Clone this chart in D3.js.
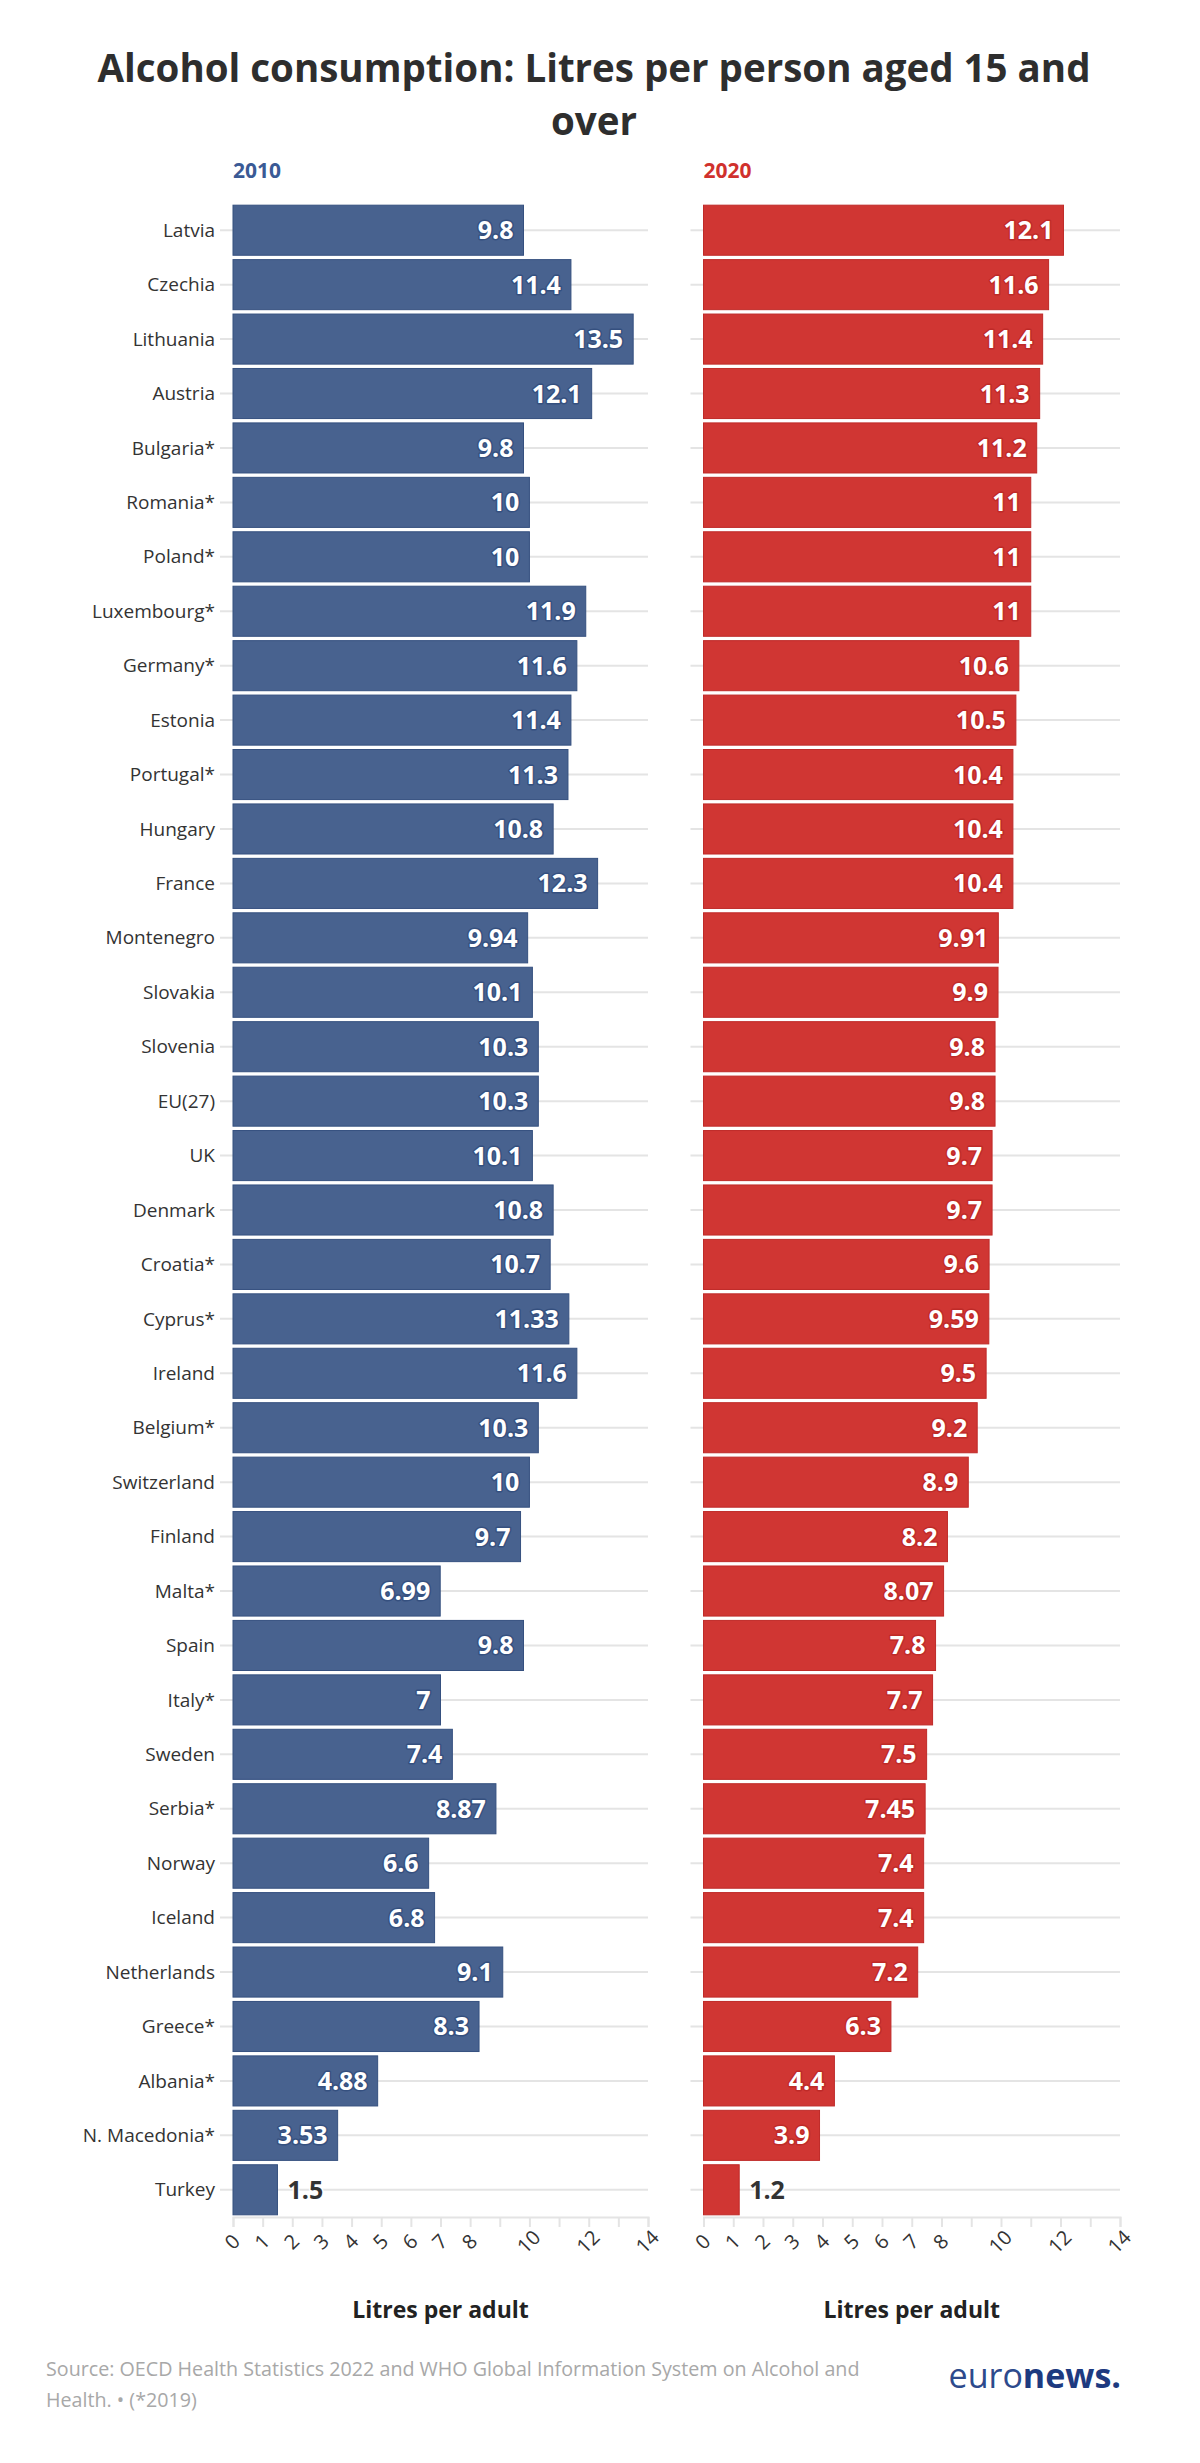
<!DOCTYPE html>
<html>
<head>
<meta charset="utf-8">
<script src="https://cdn.jsdelivr.net/npm/d3@7"></script>
<style>
  html, body { margin: 0; padding: 0; background: #fff; }
  svg { display: block; font-family: "Open Sans", sans-serif; }
</style>
</head>
<body>
<svg id="chart" width="1200" height="2463"></svg>
<script>
const countries = ["Latvia","Czechia","Lithuania","Austria","Bulgaria*","Romania*","Poland*","Luxembourg*","Germany*","Estonia","Portugal*","Hungary","France","Montenegro","Slovakia","Slovenia","EU(27)","UK","Denmark","Croatia*","Cyprus*","Ireland","Belgium*","Switzerland","Finland","Malta*","Spain","Italy*","Sweden","Serbia*","Norway","Iceland","Netherlands","Greece*","Albania*","N. Macedonia*","Turkey"];
const values2010 = [9.8,11.4,13.5,12.1,9.8,10,10,11.9,11.6,11.4,11.3,10.8,12.3,9.94,10.1,10.3,10.3,10.1,10.8,10.7,11.33,11.6,10.3,10,9.7,6.99,9.8,7,7.4,8.87,6.6,6.8,9.1,8.3,4.88,3.53,1.5];
const values2020 = [12.1,11.6,11.4,11.3,11.2,11,11,11,10.6,10.5,10.4,10.4,10.4,9.91,9.9,9.8,9.8,9.7,9.7,9.6,9.59,9.5,9.2,8.9,8.2,8.07,7.8,7.7,7.5,7.45,7.4,7.4,7.2,6.3,4.4,3.9,1.2];
const seriesNames = ["2010","2020"];
const tickValues = [0,1,2,3,4,5,6,7,8,9,10,11,12,13,14];
const tickLabels = ["0","1","2","3","4","5","6","7","8","","10","","12","","14"];
const titleLines = ["Alcohol consumption: Litres per person aged 15 and","over"];
const axisTitle = "Litres per adult";
const sourceLines = ["Source: OECD Health Statistics 2022 and WHO Global Information System on Alcohol and","Health. • (*2019)"];

const svg = d3.select("#chart");

// Title
svg.append("text")
  .attr("x", 594).attr("y", 82)
  .attr("text-anchor", "middle")
  .attr("font-size", 38.5).attr("font-weight", 700).attr("fill", "#2e2e2e")
  .selectAll("tspan").data(titleLines).join("tspan")
  .attr("x", 594).attr("dy", (d, i) => i === 0 ? 0 : 53)
  .text(d => d);

const y = d3.scaleBand().domain(countries).range([203, 2217]).paddingInner(0.08).paddingOuter(0.04);

const panels = [
  { name: seriesNames[0], values: values2010, x0: 233, x1: 648, fill: "#48628f", stroke: "#35507f", head: "#3a5a95", labels: true },
  { name: seriesNames[1], values: values2020, x0: 703.5, x1: 1120, fill: "#d03633", stroke: "#bf2a28", head: "#d0312d", labels: false }
];

const axisY = 2217;

panels.forEach(p => {
  const x = d3.scaleLinear().domain([0, 14]).range([p.x0, p.x1]);
  const g = svg.append("g");

  // header
  g.append("text").attr("x", p.x0).attr("y", 178)
    .attr("font-size", 21).attr("font-weight", 700).attr("fill", p.head)
    .text(p.name);

  // horizontal gridlines through category centres
  g.selectAll("line.grid").data(countries).join("line")
    .attr("x1", p.x0 - 13).attr("x2", p.x1)
    .attr("y1", d => y(d) + y.bandwidth() / 2)
    .attr("y2", d => y(d) + y.bandwidth() / 2)
    .attr("stroke", "#e4e4e4").attr("stroke-width", 2);

  // category labels
  if (p.labels) {
    g.selectAll("text.cat").data(countries).join("text")
      .attr("x", p.x0 - 18)
      .attr("y", d => y(d) + y.bandwidth() / 2)
      .attr("dy", "0.35em")
      .attr("text-anchor", "end")
      .attr("font-size", 19).attr("fill", "#333")
      .text(d => d);
  }

  // bars
  g.selectAll("rect.bar").data(countries).join("rect")
    .attr("x", x(0))
    .attr("y", d => y(d))
    .attr("width", (d, i) => x(p.values[i]) - x(0))
    .attr("height", y.bandwidth())
    .attr("fill", p.fill)
    .attr("stroke", p.stroke).attr("stroke-width", 1);

  // value labels
  countries.forEach((c, i) => {
    const v = p.values[i];
    const w = x(v) - x(0);
    const inside = w > 70;
    const t = g.append("text")
      .attr("y", y(c) + y.bandwidth() / 2)
      .attr("dy", "0.36em")
      .attr("font-size", 25).attr("font-weight", 700)
      .text(String(v));
    if (inside) {
      t.attr("x", x(v) - 10).attr("text-anchor", "end")
        .attr("fill", "#fff")
        .attr("stroke", p.stroke).attr("stroke-width", 3)
        .attr("paint-order", "stroke").attr("stroke-linejoin", "round");
    } else {
      t.attr("x", x(v) + 10).attr("text-anchor", "start")
        .attr("fill", "#333")
        .attr("stroke", "#fff").attr("stroke-width", 3)
        .attr("paint-order", "stroke").attr("stroke-linejoin", "round");
    }
  });

  // x axis
  const ax = g.append("g").attr("transform", `translate(0,${axisY})`)
    .call(d3.axisBottom(x).tickValues(tickValues).tickSize(10).tickFormat((d, i) => tickLabels[i]));
  ax.select(".domain").attr("stroke", "#e4e4e4").attr("stroke-width", 2);
  ax.selectAll(".tick line").attr("stroke", "#e4e4e4").attr("stroke-width", 2);
  ax.selectAll(".tick text")
    .attr("font-family", "Open Sans, sans-serif")
    .attr("font-size", 20).attr("fill", "#333")
    .attr("text-anchor", "middle")
    .attr("y", 0).attr("dy", 0)
    .attr("transform", "translate(0,26) rotate(-45)")
    .attr("dominant-baseline", "middle");

  // axis title
  g.append("text")
    .attr("x", (p.x0 + p.x1) / 2).attr("y", 2318)
    .attr("text-anchor", "middle")
    .attr("font-size", 23).attr("font-weight", 700).attr("fill", "#222")
    .text(axisTitle);
});

// source
svg.append("text")
  .attr("x", 46).attr("y", 2376)
  .attr("font-size", 19.7).attr("fill", "#a8a8a8")
  .selectAll("tspan").data(sourceLines).join("tspan")
  .attr("x", 46).attr("dy", (d, i) => i === 0 ? 0 : 31)
  .text(d => d);

// logo
const logo = svg.append("text")
  .attr("x", 1121).attr("y", 2388)
  .attr("text-anchor", "end")
  .attr("font-size", 34).attr("fill", "#1d3a80");
logo.append("tspan").attr("font-weight", 400).attr("fill", "#2d4a8c").text("euro");
logo.append("tspan").attr("font-weight", 700).text("news.");
</script>
</body>
</html>
